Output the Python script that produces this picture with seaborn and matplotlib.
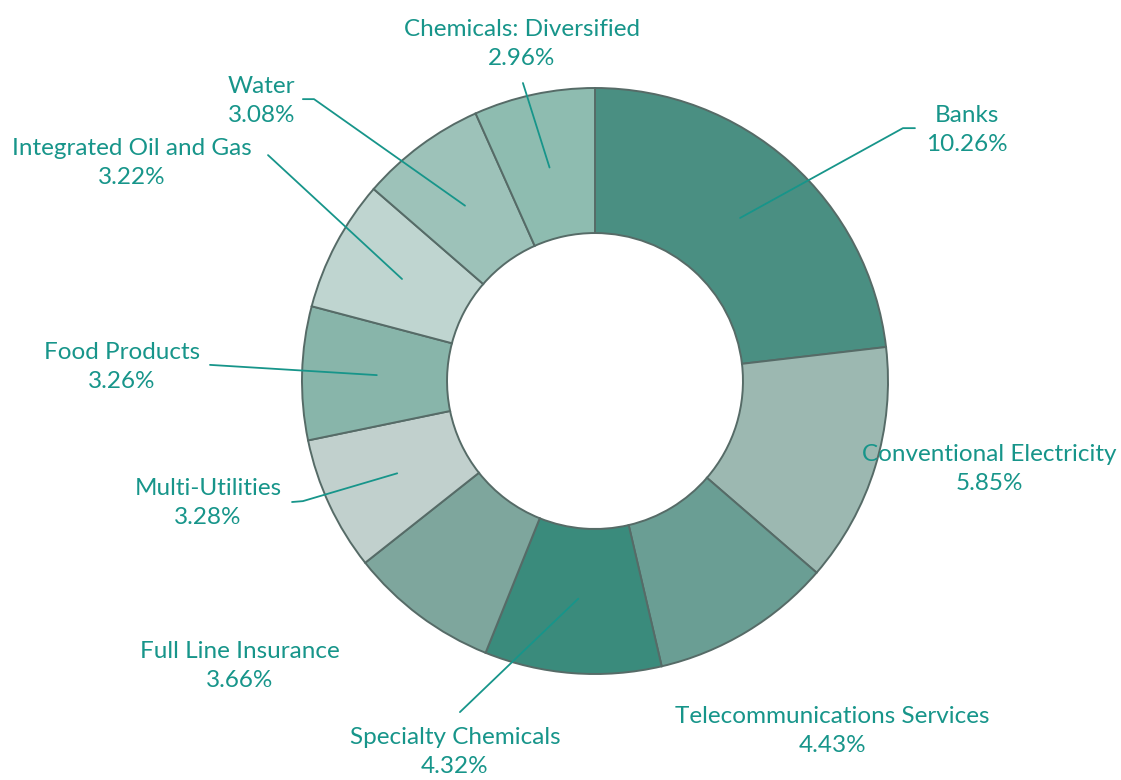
import numpy as np
import matplotlib
matplotlib.use("Agg")
import matplotlib.pyplot as plt
import seaborn as sns

# data
sectors = ["Banks", "Conventional Electricity", "Telecommunications Services",
           "Specialty Chemicals", "Full Line Insurance", "Multi-Utilities",
           "Food Products", "Integrated Oil and Gas", "Water", "Chemicals: Diversified"]
weights = [10.26, 5.85, 4.43, 4.32, 3.66, 3.28, 3.26, 3.22, 3.08, 2.96]
colors = ["#4a8f82", "#9cb8b1", "#6a9e94", "#3a8b7c", "#7ea69d",
          "#c1d0cd", "#88b5aa", "#bfd5d0", "#9dc2b9", "#8ebcb0"]

# label placement (text centre, leader start / knee) in axis units
text_pos = [(1.27, 0.857), (1.345, -0.300), (0.809, -1.195), (-0.478, -1.266),
            (-1.212, -0.973), (-1.321, -0.416), (-1.614, 0.048), (-1.580, 0.744),
            (-1.137, 0.956), (-0.249, 1.150)]
leader_start = [[(1.092, 0.863), (1.051, 0.863)], None, None, [(-0.461, -1.130)],
                None, [(-1.034, -0.413), (-0.997, -0.410)], [(-1.314, 0.055)],
                [(-1.116, 0.771)], [(-0.997, 0.962), (-0.959, 0.962)], [(-0.246, 1.017)]]

teal = "#17958a"

sns.set_theme(style="white")
plt.rcParams["font.family"] = ["Lato", "DejaVu Sans"]

fig = plt.figure(figsize=(11.21, 7.8), dpi=100)
ax = fig.add_axes([0, 0, 1, 1])

wedges, _ = ax.pie(weights, colors=colors, startangle=90, counterclock=False,
                   radius=1.0, wedgeprops=dict(width=0.495, edgecolor="#566b67",
                                               linewidth=1.4))

total = sum(weights)
angle = 90.0
for i, (name, w) in enumerate(zip(sectors, weights)):
    mid = np.deg2rad(angle - w / total * 360 / 2)
    angle -= w / total * 360
    tx, ty = text_pos[i]
    ax.text(tx, ty, f"{name}\n{w:.2f}%", ha="center", va="center",
            fontsize=17.5, color=teal, linespacing=1.5)
    if leader_start[i] is not None:
        pts = leader_start[i] + [(0.745 * np.cos(mid), 0.745 * np.sin(mid))]
        xs, ys = zip(*pts)
        ax.plot(xs, ys, color=teal, lw=1.3)

ax.set_xlim(-595 / 293, (1121 - 595) / 293)
ax.set_ylim(-(780 - 381) / 293, 381 / 293)
ax.set_aspect("equal")
ax.axis("off")

fig.savefig("out.png", dpi=100)
